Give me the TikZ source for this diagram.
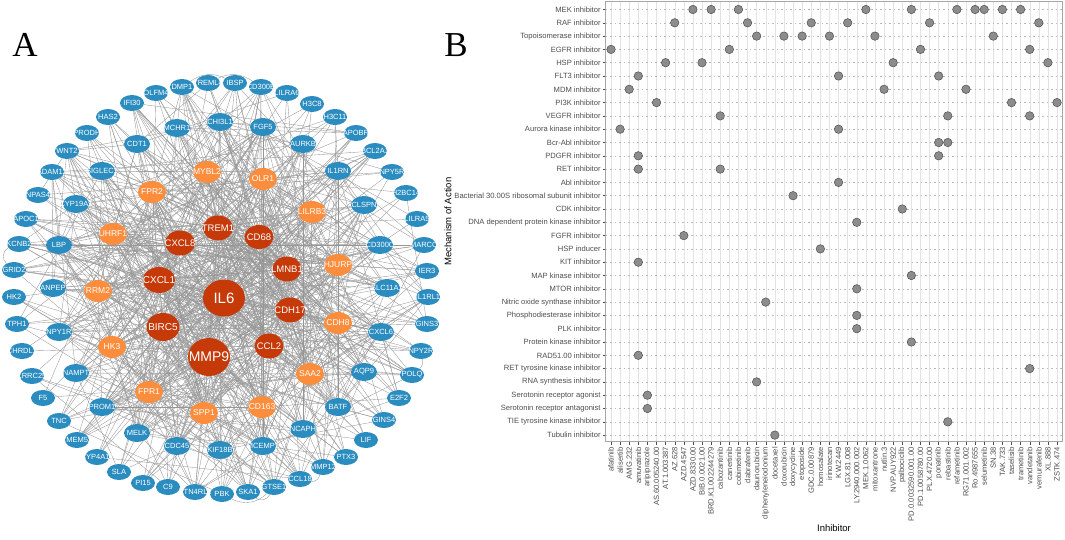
\documentclass[tikz,border=0pt]{standalone}
\usepackage{fontspec}
\setmainfont{Liberation Sans}
\newfontfamily\serifA{Liberation Serif}
\usetikzlibrary{shapes.geometric,backgrounds}
\definecolor{nblue}{RGB}{43,140,192}
\definecolor{norange}{RGB}{251,141,61}
\definecolor{nred}{RGB}{198,58,10}
\definecolor{edgec}{RGB}{150,150,150}
\definecolor{axtext}{RGB}{77,77,77}
\definecolor{dotfill}{RGB}{140,140,140}
\definecolor{dotline}{RGB}{80,80,80}
\tikzset{
  nd/.style={ellipse, inner sep=0pt, text=white, font=\fontsize{7.5}{8}\selectfont},
  bi/.style={nd, fill=nblue, minimum width=26pt, minimum height=18pt},
  bo/.style={nd, fill=nblue, minimum width=24pt, minimum height=16pt},
  on/.style={nd, fill=norange, minimum width=28pt, minimum height=22pt, font=\fontsize{8.5}{9}\selectfont},
  rn/.style={nd, fill=nred},
  edge/.style={draw=edgec, line width=0.35pt},
  vgrid/.style={draw=gray!22, line width=0.4pt},
  hgrid/.style={draw=gray!55, line width=0.4pt, dash pattern=on 1.5pt off 3pt},
  tickmark/.style={draw=axtext, line width=0.4pt},
  xlab/.style={rotate=90, anchor=east, inner sep=0pt, text=axtext, font=\fontsize{7.6}{8}\selectfont},
  ylab/.style={anchor=east, inner sep=0pt, text=axtext, font=\fontsize{7.6}{8}\selectfont},
  dotmark/.style={circle, fill=dotfill, draw=dotline, line width=0.5pt, minimum size=8.5pt, inner sep=0pt},
  paneltitle/.style={font=\serifA\fontsize{35}{35}\selectfont, inner sep=0pt},
  axtitle/.style={font=\fontsize{9.5}{10}\selectfont, inner sep=0pt}
}
\newcommand\medge[3]{\pgfmathparse{rnd}\ifdim\pgfmathresult pt<#3pt\draw[edge] (#1) -- (#2);\fi}
\def\Rlist{IL6,MMP9,TREM1,CD68,CXCL8,LMNB1,CXCL1,CDH17,BIRC5,CCL2}
\def\Olist{FPR2,MYBL2,OLR1,LILRB3,UHRF1,HJURP,RRM2,CDH8,HK3,SAA2,FPR1,CD163,SPP1}
\def\Ilist{CDT1,MCHR1,CHI3L1,FGF5,AURKB,SIGLEC1,IL1RN,CYP19A1,CLSPN,LBP,CD300C,ANPEP,SLC11A1,NPY1R,CXCL6,NAMPT,AQP9,PROM1,BATF,MELK,NCAPH,CDC45,MCEMP1,KIF18B}
\def\Ulist{DMP1,TREML4,IBSP,CD300E,LILRA6,H3C8,H3C11,APOBR,BCL2A1,NPY5R,H2BC14,LILRA5,MARCO,IER3,IL1RL1,GINS3,NPY2R,POLQ,E2F2,GINS4,LIF,PTX3,MMP12,CCL18,GTSE1,SKA1,PBK,RTN4RL1,C9,PI15,SLA,CYP4A11,TMEM52,TNC,F5,LRRC25,CHRDL1,TPH1,HK2,GRID2,KCNB2,APOC1,NPAS4,ADAM12,WNT2,PRODH,HAS2,IFI30,OLFM4}
\begin{document}
\begin{tikzpicture}[x=1pt,y=-1pt]
\useasboundingbox (0,0) rectangle (1065,540);
% ---------- Panel A ----------
\node[paneltitle] (labA) at (25,45) {A};
\foreach \n/\x/\y/\w/\h/\f in {IL6/224/298/42/37/15,MMP9/209/357/42/38/14,TREM1/218/228/30/25/9.5,CD68/259/237/29/24/9.5,CXCL8/180/243/30/25/9.5,LMNB1/287/269/29/25/9.5,CXCL1/159/280/32/26/10,CDH17/290/310/30/25/9.5,BIRC5/163/327/33/28/10,CCL2/269/346/29/25/9.5}
  \node[rn, minimum width=\w pt, minimum height=\h pt, font=\fontsize{\f}{\f}\selectfont] (\n) at (\x,\y) {\makebox[0pt]{\n}};
\foreach \n/\x/\y in {FPR2/152/192,MYBL2/207/172,OLR1/263/179,LILRB3/312/212,UHRF1/113/234,HJURP/338/265,RRM2/98/291,CDH8/338/323,HK3/112/347,SAA2/310/374,FPR1/149/392,CD163/262/407,SPP1/204/413}
  \node[on] (\n) at (\x,\y) {\makebox[0pt]{\n}};
\foreach \n/\x/\y in {CDT1/137/144,MCHR1/177/128,CHI3L1/220/122,FGF5/263/127,AURKB/303/144,SIGLEC1/102/171,IL1RN/338/171,CYP19A1/76/204,CLSPN/364/205,LBP/59/245,CD300C/380/245,ANPEP/53/288,SLC11A1/387/288,NPY1R/59/332,CXCL6/381/332,NAMPT/76/373,AQP9/364/372,PROM1/102/407,BATF/338/407,MELK/137/433,NCAPH/303/429,CDC45/177/446,MCEMP1/263/446,KIF18B/220/450}
  \node[bi] (\n) at (\x,\y) {\makebox[0pt]{\n}};
\foreach \n/\x/\y in {DMP1/182/87,TREML4/208/83,IBSP/235/83,CD300E/261/87,LILRA6/287/93,H3C8/312/104,H3C11/335/117,APOBR/356/133,BCL2A1/375/151,NPY5R/392/172,H2BC14/406/193,LILRA5/417/219,MARCO/424/245,IER3/427/271,IL1RL1/428/297,GINS3/427/324,NPY2R/421/351,POLQ/412/375,E2F2/399/398,GINS4/384/420,LIF/366/440,PTX3/346/457,MMP12/323/467,CCL18/300/479,GTSE1/274/487,SKA1/248/492,PBK/222/494,RTN4RL1/195/492,C9/168/487,PI15/143/483,SLA/119/472,CYP4A11/97/457,TMEM52/77/440,TNC/59/421,F5/43/398,LRRC25/32/376,CHRDL1/22/351,TPH1/17/324,HK2/14/297,GRID2/14/270,KCNB2/19/244,APOC1/26/219,NPAS4/38/195,ADAM12/52/172,WNT2/67/151,PRODH/87/133,HAS2/108/117,IFI30/132/103,OLFM4/156/93}
  \node[bo] (\n) at (\x,\y) {\makebox[0pt]{\n}};
\begin{pgfonlayer}{background}
\pgfmathsetseed{2024}
\foreach \a [count=\i] in \Rlist {\foreach \b [count=\j] in \Rlist {\ifnum\j>\i \medge{\a}{\b}{0.97}\fi}}
\foreach \a in \Rlist {\foreach \b in \Olist {\medge{\a}{\b}{0.95}}}
\foreach \a in \Rlist {\foreach \b in \Ilist {\medge{\a}{\b}{0.6}}}
\foreach \a in \Rlist {\foreach \b in \Ulist {\medge{\a}{\b}{0.3}}}
\foreach \a [count=\i] in \Olist {\foreach \b [count=\j] in \Olist {\ifnum\j>\i \medge{\a}{\b}{0.5}\fi}}
\foreach \a in \Olist {\foreach \b in \Ilist {\medge{\a}{\b}{0.35}}}
\foreach \a in \Olist {\foreach \b in \Ulist {\medge{\a}{\b}{0.15}}}
\foreach \a [count=\i] in \Ilist {\foreach \b [count=\j] in \Ilist {\ifnum\j>\i \medge{\a}{\b}{0.12}\fi}}
\foreach \a in \Ilist {\foreach \b in \Ulist {\medge{\a}{\b}{0.08}}}
\foreach \a [count=\i] in \Ulist {\foreach \b [count=\j] in \Ulist {\ifnum\j>\i \medge{\a}{\b}{0.015}\fi}}
\draw[edge] (KCNB2) to[bend right=60] (GRID2);
\draw[edge] (PBK) to[bend right=35] (GTSE1);
\draw[edge] (SKA1) to[bend right=50] (GTSE1);
\draw[edge] (CCL18) to[bend right=40] (MMP12);
\draw[edge] (NPY2R) to[bend left=30] (POLQ);
\draw[edge] (TREML4) to[bend left=30] (CD300E);
\draw[edge] (DMP1) to[bend left=30] (IBSP);
\end{pgfonlayer}
% ---------- Panel B ----------
\node[paneltitle] (labB) at (456,45) {B};
\foreach \t [count=\i] in {afatinib,alisertib,AMG.232,amuvatinib,aripiprazole,AS.60.005240.00,AT.1.003387,AZ.628,AZD.4547,AZD.8330.00,BIB.0.0021.00,BRD.K1.002244279,cabozantinib,canertinib,cobimetinib,dabrafenib,daunorubicin,diphenyleneiodonium,docetaxel,doxorubicin,doxycycline,etoposide,GDC.0.00879,homosalate,irinotecan,KW.2449,LGX.81.008,LY.2940.000.002,MEK.1.0062,mitoxantrone,nutlin.3,NVP.AUY922,palbociclib,PD.0.0032590.001.00,PD.1.0058780.00,PLX.4720.00,ponatinib,rebastinib,refametinib,RG71.001.002,Ro.4987655,selumetinib,SN.38,TAK.733,taselisib,trametinib,vandetanib,vemurafenib,XL.888,ZSTK.474} {
  \pgfmathsetmacro\xx{611+(\i-1)*9.102}
  \draw[vgrid] (\xx,1.7) -- (\xx,441.7);
  \draw[tickmark] (\xx,441.7) -- (\xx,444.5);
  \node[xlab] (xl\i) at (\xx,447) {\t};
}
\foreach \t [count=\j] in {MEK inhibitor,RAF inhibitor,Topoisomerase inhibitor,EGFR inhibitor,HSP inhibitor,FLT3 inhibitor,MDM inhibitor,PI3K inhibitor,VEGFR inhibitor,Aurora kinase inhibitor,Bcr-Abl inhibitor,PDGFR inhibitor,RET inhibitor,Abl inhibitor,Bacterial 30.00S ribosomal subunit inhibitor,CDK inhibitor,DNA dependent protein kinase inhibitor,FGFR inhibitor,HSP inducer,KIT inhibitor,MAP kinase inhibitor,MTOR inhibitor,Nitric oxide synthase inhibitor,Phosphodiesterase inhibitor,PLK inhibitor,Protein kinase inhibitor,RAD51.00 inhibitor,RET tyrosine kinase inhibitor,RNA synthesis inhibitor,Serotonin receptor agonist,Serotonin receptor antagonist,TIE tyrosine kinase inhibitor,Tubulin inhibitor} {
  \pgfmathsetmacro\yy{9.5+(\j-1)*13.3}
  \draw[hgrid] (605.7,\yy) -- (1062,\yy);
  \draw[tickmark] (602.9,\yy) -- (605.7,\yy);
  \node[ylab] (yl\j) at (600.8,\yy) {\t};
}
\draw[draw=gray!70, line width=0.8pt] (605.7,1.7) rectangle (1062,441.7);
\foreach \c/\r [count=\k] in {10/1,12/1,15/1,29/1,34/1,39/1,41/1,42/1,44/1,46/1,
  8/2,16/2,23/2,27/2,36/2,48/2,
  17/3,20/3,22/3,25/3,30/3,43/3,
  1/4,14/4,35/4,47/4,
  7/5,11/5,32/5,49/5,
  4/6,26/6,37/6,
  3/7,31/7,40/7,
  6/8,45/8,50/8,
  13/9,38/9,47/9,
  2/10,26/10,
  37/11,38/11,
  4/12,37/12,
  4/13,13/13,
  26/14,21/15,33/16,28/17,9/18,24/19,4/20,34/21,28/22,18/23,28/24,28/25,34/26,4/27,47/28,17/29,5/30,5/31,38/32,19/33}
  \node[dotmark] (d\k) at ({611+(\c-1)*9.102},{9.5+(\r-1)*13.3}) {};
\node[axtitle, rotate=90] (ytitle) at (448,221.7) {Mechanism of Action};
\node[axtitle] (xtitle) at (834,528) {Inhibitor};
\end{tikzpicture}
\end{document}
